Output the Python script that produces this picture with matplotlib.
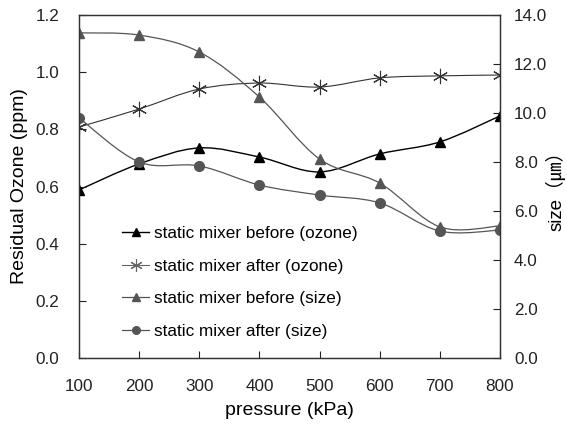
import matplotlib
matplotlib.use("Agg")
import matplotlib.pyplot as plt
import numpy as np
from matplotlib.path import Path
from matplotlib.patches import PathPatch
from matplotlib.lines import Line2D

plt.rcParams['font.family'] = ['Liberation Sans', 'Noto Sans CJK JP', 'DejaVu Sans']

pressure = [100, 200, 300, 400, 500, 600, 700, 800]
ozone_before = [0.588, 0.679, 0.735, 0.703, 0.651, 0.714, 0.756, 0.847]
ozone_after = [0.808, 0.871, 0.941, 0.962, 0.948, 0.980, 0.987, 0.990]
size_before = [13.27, 13.18, 12.49, 10.65, 8.12, 7.14, 5.35, 5.39]
size_after = [9.80, 8.00, 7.84, 7.06, 6.65, 6.33, 5.18, 5.22]

labels = ["static mixer before (ozone)", "static mixer after (ozone)",
          "static mixer before (size)", "static mixer after (size)"]


def smooth_path(x, y):
    x = np.asarray(x, float); y = np.asarray(y, float)
    verts = [(x[0], y[0])]
    codes = [Path.MOVETO]
    n = len(x)
    for i in range(n - 1):
        p0 = np.array([x[max(i - 1, 0)], y[max(i - 1, 0)]])
        p1 = np.array([x[i], y[i]])
        p2 = np.array([x[i + 1], y[i + 1]])
        p3 = np.array([x[min(i + 2, n - 1)], y[min(i + 2, n - 1)]])
        c1 = p1 + (p2 - p0) / 6.0
        c2 = p2 - (p3 - p1) / 6.0
        verts += [tuple(c1), tuple(c2), tuple(p2)]
        codes += [Path.CURVE4] * 3
    return Path(verts, codes)


fig = plt.figure(figsize=(5.67, 4.28), dpi=100)
ax = fig.add_axes([79 / 567, 1 - 358 / 428, 421 / 567, 343 / 428])
ax2 = ax.twinx()

black = '#000000'
gray = '#555555'
stargray = '#333333'

ax.add_patch(PathPatch(smooth_path(pressure, ozone_before), fill=False, ec=black, lw=1.0))
ax.plot(pressure, ozone_before, ls='none', marker='^', ms=7, color=black)
ax.add_patch(PathPatch(smooth_path(pressure, ozone_after), fill=False, ec=stargray, lw=0.8))
ax.plot(pressure, ozone_after, ls='none', marker=(6, 2, 0), ms=11, mew=0.8, color=stargray)

ax2.add_patch(PathPatch(smooth_path(pressure, size_before), fill=False, ec=gray, lw=0.9))
ax2.plot(pressure, size_before, ls='none', marker='^', ms=7, color=gray)
ax2.add_patch(PathPatch(smooth_path(pressure, size_after), fill=False, ec=gray, lw=0.9))
ax2.plot(pressure, size_after, ls='none', marker='o', ms=7, color=gray)

ax.set_xlim(100, 800)
ax.set_ylim(0, 1.2)
ax2.set_ylim(0, 14)
ax.set_xticks(pressure)
ax.set_yticks(np.arange(0, 1.21, 0.2))
ax.set_yticklabels([f"{v:.1f}" for v in np.arange(0, 1.21, 0.2)])
ax2.set_yticks(np.arange(0, 14.1, 2))
ax2.set_yticklabels([f"{v:.1f}" for v in np.arange(0, 14.1, 2)])

for a in (ax, ax2):
    a.tick_params(direction='in', length=5, width=0.8, labelsize=12.3, colors='#222222')
    for s in a.spines.values():
        s.set_color('#333333')
        s.set_linewidth(0.9)
ax.tick_params(axis='x', pad=15)
ax.tick_params(axis='y', pad=14)
ax2.tick_params(axis='y', pad=10)

ax.set_xlabel("pressure (kPa)", fontsize=14, labelpad=6)
ax.set_ylabel("Residual Ozone (ppm)", fontsize=14)
ax.yaxis.set_label_coords(-0.121, 0.5)
ax2.set_ylabel("size（㎛）", fontsize=13.5)
ax2.yaxis.set_label_coords(1.108, 0.5)

handles = [
    Line2D([], [], color=black, marker='^', ms=5.5, lw=1.0),
    Line2D([], [], color='#666666', marker=(6, 2, 0), ms=9, mew=0.8, lw=0.8),
    Line2D([], [], color=gray, marker='^', ms=5.5, lw=0.9),
    Line2D([], [], color=gray, marker='o', ms=5.5, lw=0.9),
]
ax.legend(handles, labels, loc='upper left', bbox_to_anchor=(0.102, 0.385),
          frameon=False, fontsize=12.3, handlelength=1.6, handletextpad=0.25,
          labelspacing=1.03, borderpad=0, borderaxespad=0)

fig.savefig("out.png", dpi=100)
